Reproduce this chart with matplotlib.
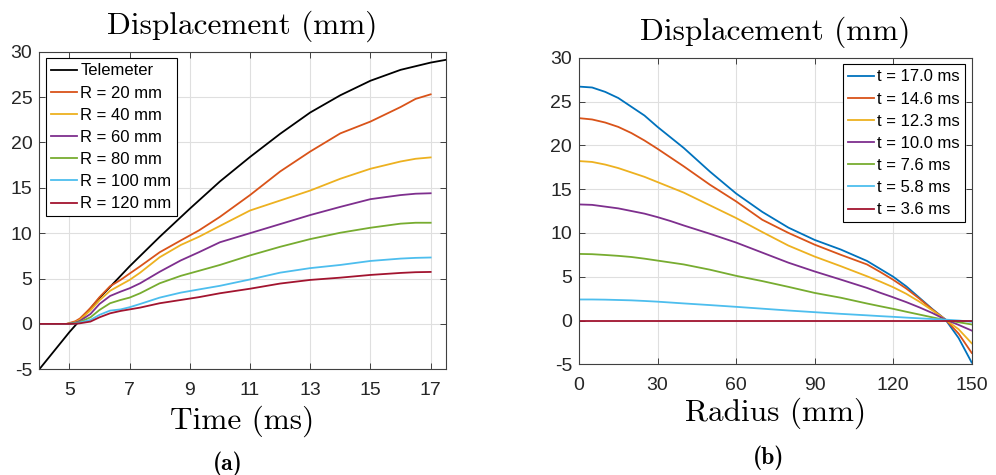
import matplotlib
matplotlib.use("Agg")
import matplotlib.pyplot as plt

# ---------------- data: panel (a) ----------------
tele_t = [4.0, 5.0, 6.0, 7.0, 8.0, 9.0, 10.0, 11.0, 12.0, 13.0, 14.0, 15.0, 16.0, 17.0, 17.5]
tele_v = [-5.0, -0.9, 2.85, 6.35, 9.6, 12.7, 15.7, 18.4, 20.95, 23.3, 25.2, 26.8, 28.0, 28.8, 29.1]

time_ms = [4.0, 4.9, 5.0, 5.2, 5.35, 5.7, 6.0, 6.35, 6.7, 7.0, 7.35, 8.0, 8.7, 9.3,
           10.0, 11.0, 12.0, 13.0, 14.0, 15.0, 16.0, 16.5, 17.0]
r20 = [0, 0, 0.1, 0.3, 0.6, 1.75, 2.95, 4.15, 4.85, 5.55, 6.35, 7.9, 9.2, 10.3,
       11.8, 14.2, 16.8, 19.0, 21.0, 22.3, 23.9, 24.8, 25.3]
r40 = [0, 0, 0.05, 0.2, 0.45, 1.5, 2.6, 3.65, 4.3, 4.85, 5.65, 7.35, 8.7, 9.6,
       10.8, 12.5, 13.6, 14.7, 16.0, 17.1, 17.9, 18.2, 18.35]
r60 = [0, 0, 0.03, 0.15, 0.33, 1.1, 2.2, 3.08, 3.56, 3.93, 4.48, 5.75, 7.0, 7.9,
       9.0, 10.0, 11.0, 12.0, 12.9, 13.75, 14.2, 14.35, 14.4]
r80 = [0, 0, 0.02, 0.1, 0.22, 0.73, 1.54, 2.28, 2.64, 2.9, 3.38, 4.48, 5.3, 5.85,
       6.5, 7.55, 8.5, 9.35, 10.05, 10.6, 11.05, 11.15, 11.15]
r100 = [0, 0, 0.01, 0.05, 0.15, 0.44, 1.0, 1.47, 1.6, 1.84, 2.2, 2.9, 3.45, 3.8,
        4.2, 4.9, 5.65, 6.15, 6.5, 6.94, 7.2, 7.28, 7.32]
r120 = [0, 0, 0, 0.02, 0.07, 0.26, 0.73, 1.17, 1.43, 1.6, 1.8, 2.28, 2.64, 2.95,
        3.38, 3.88, 4.45, 4.85, 5.1, 5.4, 5.62, 5.7, 5.73]
labels_a = ["R = 20 mm", "R = 40 mm", "R = 60 mm", "R = 80 mm", "R = 100 mm", "R = 120 mm"]

# ---------------- data: panel (b) ----------------
radius_mm = [0, 5, 10, 15, 20, 25, 30, 35, 40, 50, 60, 70, 80, 90, 100, 110,
             115, 120, 125, 130, 135, 140, 145, 150]
t170 = [26.7, 26.6, 26.1, 25.4, 24.4, 23.4, 22.1, 20.9, 19.7, 17.0, 14.5, 12.4, 10.6, 9.2, 8.1, 6.8,
        5.9, 5.0, 3.9, 2.6, 1.3, 0.1, -2.0, -4.8]
t146 = [23.1, 22.95, 22.6, 22.1, 21.4, 20.55, 19.6, 18.6, 17.6, 15.5, 13.6, 11.5, 10.0, 8.66, 7.5, 6.4,
        5.55, 4.65, 3.65, 2.5, 1.25, 0.1, -1.5, -3.7]
t123 = [18.2, 18.1, 17.8, 17.4, 16.9, 16.4, 15.8, 15.2, 14.6, 13.15, 11.7, 10.1, 8.55, 7.3, 6.2, 5.05,
        4.45, 3.8, 3.05, 2.15, 1.15, 0.1, -1.0, -2.6]
t100 = [13.25, 13.2, 13.0, 12.8, 12.5, 12.2, 11.8, 11.35, 10.85, 9.9, 8.9, 7.75, 6.6, 5.6, 4.67, 3.72,
        3.17, 2.65, 2.1, 1.5, 0.85, 0.1, -0.5, -1.15]
t076 = [7.6, 7.57, 7.48, 7.38, 7.25, 7.06, 6.84, 6.62, 6.4, 5.8, 5.1, 4.5, 3.84, 3.15, 2.6, 1.94,
        1.63, 1.33, 1.0, 0.68, 0.36, 0.05, -0.2, -0.45]
t058 = [2.4, 2.4, 2.38, 2.34, 2.3, 2.23, 2.15, 2.05, 1.95, 1.76, 1.56, 1.35, 1.14, 0.95, 0.76, 0.59,
        0.5, 0.42, 0.33, 0.25, 0.17, 0.1, 0.0, -0.15]
t036 = [0.0] * 24
labels_b = ["t = 17.0 ms", "t = 14.6 ms", "t = 12.3 ms", "t = 10.0 ms",
            "t = 7.6 ms", "t = 5.8 ms", "t = 3.6 ms"]

xticks_a = [5, 7, 9, 11, 13, 15, 17]
xticks_b = [0, 30, 60, 90, 120, 150]
yticks = [-5, 0, 5, 10, 15, 20, 25, 30]

# MATLAB default colour order
C_BLUE, C_ORANGE, C_YELLOW = "#0072BD", "#D95319", "#EDB120"
C_PURPLE, C_GREEN, C_LBLUE, C_RED = "#7E2F8E", "#77AC30", "#4DBEEE", "#A2142F"

plt.rcParams["font.family"] = ["Liberation Sans", "DejaVu Sans"]
plt.rcParams["axes.unicode_minus"] = False

W, H = 996, 475
fig = plt.figure(figsize=(W / 100, H / 100), dpi=100)


def px_axes(l, t, r, b):
    return fig.add_axes([l / W, 1 - b / H, (r - l) / W, (b - t) / H])


def style(ax):
    ax.set_axisbelow(True)
    ax.grid(True, color="#dfdfdf", linewidth=0.8)
    for s in ax.spines.values():
        s.set_color("#404040")
        s.set_linewidth(0.8)
    ax.tick_params(direction="in", length=4, width=0.7, colors="#404040",
                   labelcolor="#262626", labelsize=14, top=True, right=True)
    ax.set_yticks(yticks)
    ax.set_ylim(-5, 30)


def legend(ax, loc):
    leg = ax.legend(loc=loc, borderaxespad=0.4, fontsize=12, handlelength=1.55,
                    handletextpad=0.22, labelspacing=0.43, borderpad=0.3,
                    fancybox=False, framealpha=1, edgecolor="black")
    leg.get_frame().set_linewidth(0.8)
    return leg


LW = 1.3
serif = "cmr10"
TS = 22.5

# ---------------- panel (a) ----------------
axa = px_axes(39.3, 51.7, 445.7, 369.3)
style(axa)
axa.plot(tele_t, tele_v, color="black", lw=LW, label="Telemeter")
for vals, col, lab in zip([r20, r40, r60, r80, r100, r120],
                          [C_ORANGE, C_YELLOW, C_PURPLE, C_GREEN, C_LBLUE, C_RED], labels_a):
    axa.plot(time_ms, vals, color=col, lw=LW, label=lab)
axa.set_xlim(4, 17.5)
axa.set_xticks(xticks_a)
axa.tick_params(axis="x", pad=9)
axa.tick_params(axis="y", pad=5)
axa.set_title("Displacement (mm)", fontfamily=serif, fontsize=TS, pad=13)
axa.set_xlabel("Time (ms)", fontfamily=serif, fontsize=TS, labelpad=4.5)
legend(axa, "upper left")

# ---------------- panel (b) ----------------
axb = px_axes(579, 57.7, 971.7, 364.3)
style(axb)
for vals, col, lab in zip([t170, t146, t123, t100, t076, t058, t036],
                          [C_BLUE, C_ORANGE, C_YELLOW, C_PURPLE, C_GREEN, C_LBLUE, C_RED], labels_b):
    axb.plot(radius_mm, vals, color=col, lw=LW, label=lab)
axb.set_xlim(0, 150)
axb.set_xticks(xticks_b)
axb.tick_params(axis="x", pad=9)
axb.tick_params(axis="y", pad=5)
axb.set_title("Displacement (mm)", fontfamily=serif, fontsize=TS, pad=13)
axb.set_xlabel("Radius (mm)", fontfamily=serif, fontsize=TS, labelpad=3)
legend(axb, "upper right")

fig.text(228 / W, 1 - 464 / H, "(a)", fontfamily="cmb10", fontsize=17, ha="center", va="center")
fig.text(769 / W, 1 - 458 / H, "(b)", fontfamily="cmb10", fontsize=17, ha="center", va="center")

fig.savefig("out.png", dpi=100)
